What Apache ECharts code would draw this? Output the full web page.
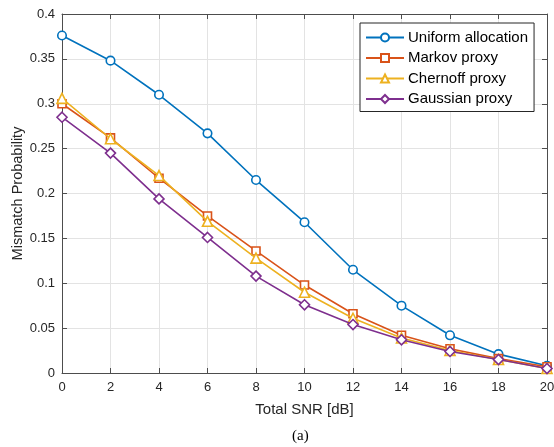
<!DOCTYPE html>
<html><head><meta charset="utf-8">
<script src="https://cdn.jsdelivr.net/npm/echarts@6/dist/echarts.min.js"></script>
<style>html,body{margin:0;padding:0;background:#fff}#c{width:554px;height:447px}</style>
</head><body><div id="c"></div>
<script>
var snr = [0, 2, 4, 6, 8, 10, 12, 14, 16, 18, 20];
var uniform  = [0.376, 0.348, 0.310, 0.267, 0.215, 0.168, 0.115, 0.075, 0.042, 0.021, 0.008];
var markov   = [0.300, 0.262, 0.217, 0.175, 0.136, 0.098, 0.066, 0.042, 0.027, 0.016, 0.007];
var chernoff = [0.306, 0.261, 0.220, 0.169, 0.128, 0.090, 0.061, 0.039, 0.025, 0.015, 0.005];
var gaussian = [0.285, 0.245, 0.194, 0.151, 0.108, 0.076, 0.054, 0.037, 0.024, 0.015, 0.005];
var seriesNames = ['Uniform allocation', 'Markov proxy', 'Chernoff proxy', 'Gaussian proxy'];
var colors = ['#0072BD', '#D95319', '#EDB120', '#7E2F8E'];
var symbols = ['circle', 'rect', 'triangle', 'diamond'];
var sizes = [8.5, 8, 10, 10];
var data = [uniform, markov, chernoff, gaussian];

var font = 'Liberation Sans, Arial, Helvetica, sans-serif';
var axisCol = '#4d4d4d';
var chart = echarts.init(document.getElementById('c'));
var series = data.map(function (vals, i) {
  return {
    name: seriesNames[i], type: 'line', xAxisIndex: 0, yAxisIndex: 0,
    data: snr.map(function (x, j) { return [x, vals[j]]; }),
    symbol: symbols[i], symbolSize: sizes[i], showAllSymbol: true,
    lineStyle: { color: colors[i], width: 1.6 },
    itemStyle: { color: '#fff', borderColor: colors[i], borderWidth: 1.6 },
    z: 3 + i
  };
});
chart.setOption({
  animation: false,
  backgroundColor: '#fff',
  grid: { left: 62, right: 7, top: 14, bottom: 74, containLabel: false, outerBoundsMode: 'none' },
  legend: {
    orient: 'vertical', left: 360, top: 23, padding: [7, 6, 5, 5], itemGap: 5.5,
    itemWidth: 38, itemHeight: 10,
    borderColor: '#262626', borderWidth: 1, backgroundColor: '#fff', borderRadius: 0,
    textStyle: { fontFamily: font, fontSize: 15, color: '#000', padding: [0, 0, 0, -1] },
    data: seriesNames
  },
  xAxis: [{
    type: 'value', min: 0, max: 20, interval: 2, position: 'bottom',
    name: 'Total SNR [dB]', nameLocation: 'middle', nameGap: 29, nameMoveOverlap: false,
    nameTextStyle: { fontFamily: font, fontSize: 15, color: '#262626' },
    axisLine: { show: true, lineStyle: { color: axisCol, width: 1 } },
    axisTick: { show: true, inside: true, length: 5, lineStyle: { color: axisCol } },
    axisLabel: { fontFamily: font, fontSize: 13, color: '#262626', margin: 8 },
    splitLine: { show: true, lineStyle: { color: '#e3e3e3', width: 1 } }
  }, {
    type: 'value', min: 0, max: 20, interval: 2, position: 'top',
    axisLine: { show: true, onZero: false, lineStyle: { color: axisCol, width: 1 } },
    axisTick: { show: true, inside: true, length: 5, lineStyle: { color: axisCol } },
    axisLabel: { show: false }, splitLine: { show: false }
  }],
  yAxis: [{
    type: 'value', min: 0, max: 0.4, interval: 0.05, position: 'left',
    name: 'Mismatch Probability', nameLocation: 'middle', nameGap: 37, nameMoveOverlap: false,
    nameTextStyle: { fontFamily: font, fontSize: 14.5, color: '#262626' },
    axisLine: { show: true, lineStyle: { color: axisCol, width: 1 } },
    axisTick: { show: true, inside: true, length: 5, lineStyle: { color: axisCol } },
    axisLabel: { fontFamily: font, fontSize: 13, color: '#262626', margin: 7,
      formatter: function (v) { return String(Math.round(v * 100) / 100); } },
    splitLine: { show: true, lineStyle: { color: '#e3e3e3', width: 1 } }
  }, {
    type: 'value', min: 0, max: 0.4, interval: 0.05, position: 'right',
    axisLine: { show: true, onZero: false, lineStyle: { color: axisCol, width: 1 } },
    axisTick: { show: true, inside: true, length: 5, lineStyle: { color: axisCol } },
    axisLabel: { show: false }, splitLine: { show: false }
  }],
  graphic: [{
    type: 'text', left: 292, top: 429,
    style: { text: '(a)', font: '15px "Liberation Serif", "Times New Roman", serif', fill: '#000' }
  }],
  series: series
});
</script></body></html>
